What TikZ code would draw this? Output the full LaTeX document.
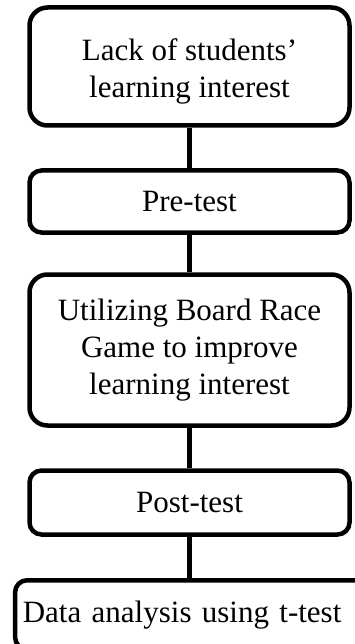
\documentclass[tikz,border=0pt]{standalone}
\usepackage{fontspec}
\setmainfont{Liberation Serif}
\usepackage{tikz}
\usetikzlibrary{positioning,shapes}
\tikzset {
    box A/.style={
        draw=black,
        line width=4.5pt,
        rectangle, % Set the shape as a rectangle
        rounded corners=18pt,
        minimum width=320pt,
        align=center,
    },
    box B/.style={
        draw=black,
        line width=4.5pt,
        rectangle, % Set the shape as a rectangle
        rounded corners=12pt,
        minimum width=320pt,
        align=center,
    },
    link/.style={
        draw=black,
        line width=4.5pt,
    },
}
\begin{document}
\begin{tikzpicture}
        [x=1pt, y=1pt, font=\fontsize{31}{37}\selectfont]

        \useasboundingbox (0,0) rectangle (355,-644);
        \clip (0,0) rectangle (355,-644);

        \node[box A, minimum height=118pt] at (189.5,-66.5) (lack) {\rule{0pt}{31pt}Lack of students'\\learning interest};
        \node[box B, minimum height=62pt] at (189.5,-201.5) (pre) {Pre-test};
        \node[box A, minimum height=151pt] at (189.5,-350) (game) {Utilizing Board Race\\Game to improve\\learning interest};
        \node[box B, minimum height=64pt] at (189.5,-502.5) (post) {Post-test};
        % last box runs off the page on the right and at the bottom
        \node[box B, minimum height=69pt, minimum width=355pt, inner xsep=7.75pt,
              text width=339.5pt, align=left] at (192.6,-614.75) (data) {Data analysis using t-test};

        \draw[link] (lack) -- (pre);
        \draw[link] (pre)  -- (game);
        \draw[link] (game) -- (post);
        \draw[link] (post.south) -- (post.south |- data.north);
\end{tikzpicture}
\end{document}
